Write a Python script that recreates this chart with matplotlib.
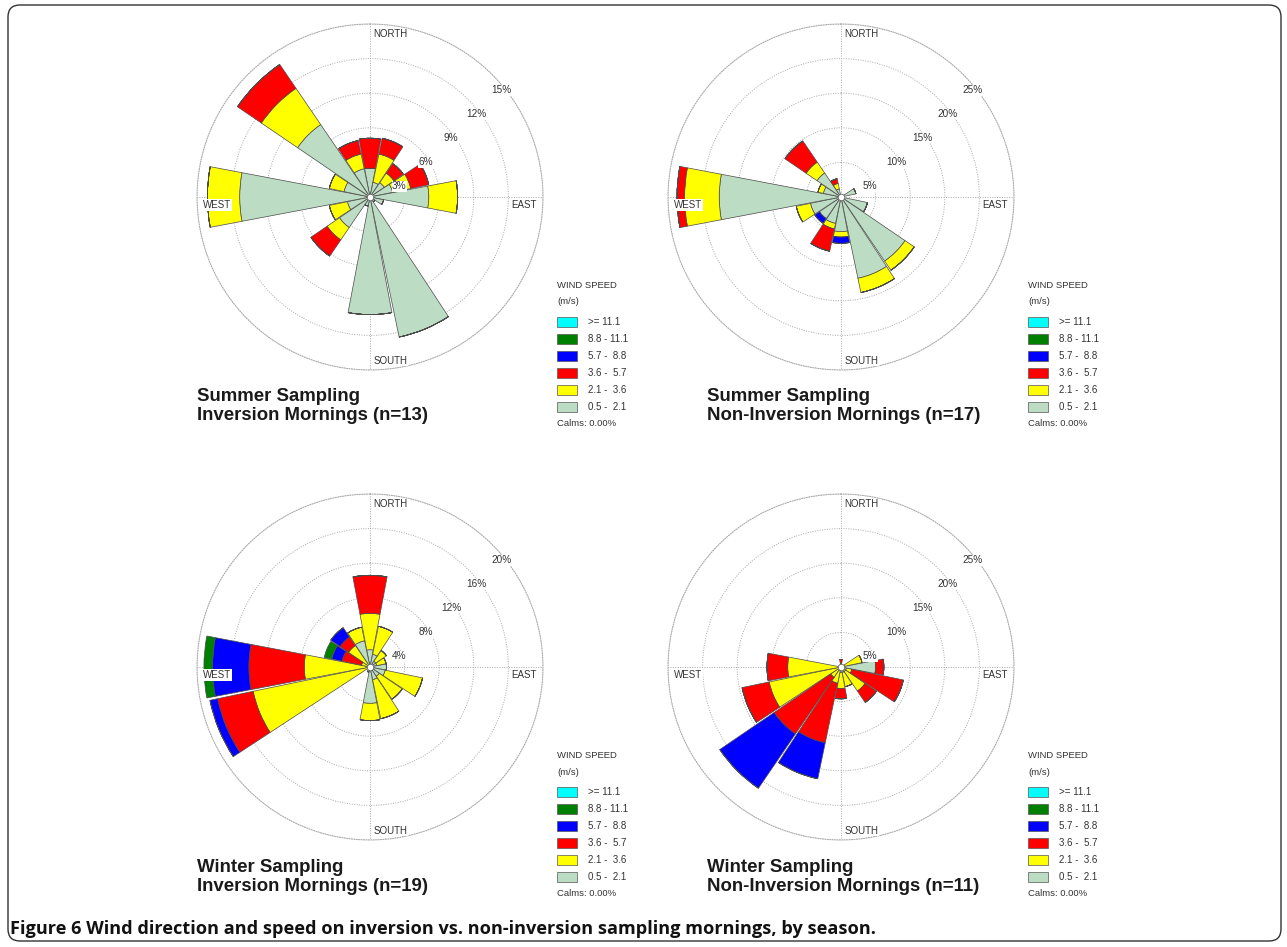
import numpy as np
import matplotlib.pyplot as plt
from matplotlib.patches import Rectangle, FancyBboxPatch
from matplotlib.transforms import IdentityTransform

W, H = 1287, 947

# 16 compass sectors, clockwise from north
dirs = ['N', 'NNE', 'NE', 'ENE', 'E', 'ESE', 'SE', 'SSE',
        'S', 'SSW', 'SW', 'WSW', 'W', 'WNW', 'NW', 'NNW']
theta = np.deg2rad(np.arange(16) * 22.5)

speed_labels = ['>= 11.1', '8.8 - 11.1', '5.7 -  8.8', '3.6 -  5.7', '2.1 -  3.6', '0.5 -  2.1']
speed_colors = ['#00ffff', '#008000', '#0000ff', '#ff0000', '#ffff00', '#bcdcc3']

# percent of time per sector, per speed class (0.5-2.1, 2.1-3.6, 3.6-5.7, 5.7-8.8, 8.8-11.1)
# summer, inversion mornings (n=13)
si_c1 = [2.5, 1.3, 1.5, 2.0, 5.1, 1.2, 0.5, 12.4, 10.2, 0.8, 3.2, 2.0, 11.3, 2.3, 7.6, 2.5]
si_c2 = [0.0, 2.5, 1.0, 1.6, 2.5, 0.0, 0.0, 0.0, 0.0, 0.0, 1.3, 1.6, 2.8, 1.3, 3.8, 1.3]
si_c3 = [2.6, 1.4, 1.0, 1.6, 0.0, 0.0, 0.0, 0.0, 0.0, 0.0, 1.7, 0.0, 0.0, 0.0, 2.5, 1.2]
si_c4 = [0.0] * 16
si_c5 = [0.0] * 16

# summer, non-inversion mornings (n=17)
sn_c1 = [0.0, 0.0, 0.0, 2.2, 0.0, 3.9, 11.2, 12.0, 5.0, 3.9, 3.8, 4.5, 17.6, 2.6, 4.2, 1.2]
sn_c2 = [0.0, 0.0, 0.0, 0.0, 0.0, 0.0, 1.6, 2.1, 0.8, 0.8, 0.0, 2.1, 5.0, 0.8, 1.9, 0.8]
sn_c3 = [0.0, 0.0, 0.0, 0.0, 0.0, 0.0, 0.0, 0.0, 0.0, 3.3, 0.0, 0.0, 1.1, 0.0, 3.7, 0.7]
sn_c4 = [0.0, 0.0, 0.0, 0.0, 0.0, 0.0, 0.0, 0.0, 0.9, 0.0, 0.8, 0.0, 0.0, 0.0, 0.0, 0.0]
sn_c5 = [0.0] * 16

# winter, inversion mornings (n=19)
wi_c1 = [2.0, 1.5, 0.8, 0.8, 1.9, 1.8, 1.3, 1.5, 4.2, 0.6, 0.3, 0.0, 0.0, 0.0, 0.0, 3.1]
wi_c2 = [4.2, 3.3, 1.5, 1.1, 0.0, 4.4, 3.2, 4.6, 2.0, 0.0, 0.0, 13.8, 7.6, 1.0, 3.0, 1.6]
wi_c3 = [4.4, 0.0, 0.0, 0.0, 0.0, 0.0, 0.0, 0.0, 0.0, 0.0, 0.0, 4.2, 6.4, 2.3, 1.2, 0.0]
wi_c4 = [0.0, 0.0, 0.0, 0.0, 0.0, 0.0, 0.0, 0.0, 0.0, 0.0, 0.0, 0.9, 4.2, 1.2, 1.3, 0.0]
wi_c5 = [0.0, 0.0, 0.0, 0.0, 0.0, 0.0, 0.0, 0.0, 0.0, 0.0, 0.0, 0.0, 1.0, 0.9, 0.0, 0.0]

# winter, non-inversion mornings (n=11)
wn_c1 = [0.0, 0.0, 0.3, 0.5, 5.0, 0.8, 0.8, 0.8, 0.8, 0.5, 0.3, 0.0, 0.0, 0.3, 0.0, 0.3]
wn_c2 = [0.5, 0.0, 0.0, 2.6, 0.0, 0.8, 3.4, 2.1, 2.3, 1.9, 1.5, 10.6, 7.7, 0.0, 0.0, 0.0]
wn_c3 = [0.6, 0.0, 0.0, 0.0, 1.2, 7.6, 2.0, 0.0, 1.5, 8.8, 9.9, 4.0, 3.0, 0.0, 0.0, 0.0]
wn_c4 = [0.0, 0.0, 0.0, 0.0, 0.0, 0.0, 0.0, 0.0, 0.0, 5.3, 9.5, 0.0, 0.0, 0.0, 0.0, 0.0]
wn_c5 = [0.0] * 16

titles = ['Summer Sampling', 'Summer Sampling', 'Winter Sampling', 'Winter Sampling']
subtitles = ['Inversion Mornings (n=13)', 'Non-Inversion Mornings (n=17)',
             'Inversion Mornings (n=19)', 'Non-Inversion Mornings (n=11)']
rings_list = [[3, 6, 9, 12, 15], [5, 10, 15, 20, 25], [4, 8, 12, 16, 20], [5, 10, 15, 20, 25]]

FONT = 'Liberation Sans'
R = 173  # outer ring radius, px


def fx(x):
    return x / W


def fy(y):
    return 1 - y / H


def rose(cx, cy, rings, classes):
    ax = fig.add_axes([fx(cx - R), fy(cy + R), 2 * R / W, 2 * R / H], projection='polar')
    ax.set_theta_zero_location('N')
    ax.set_theta_direction(-1)
    ax.set_ylim(0, rings[-1])
    ax.set_rticks(rings)
    ax.set_yticklabels([])
    ax.set_xticks(np.deg2rad([0, 90, 180, 270]))
    ax.set_xticklabels([])
    ax.grid(True, linestyle=(0, (1, 1.5)), color='#a8a8a8', linewidth=0.7)
    ax.spines['polar'].set_linestyle((0, (1, 1.5)))
    ax.spines['polar'].set_color('#a8a8a8')
    ax.spines['polar'].set_linewidth(0.7)
    ax.set_axisbelow(True)
    ax.patch.set_alpha(0)

    # stack from light winds outward
    cols = speed_colors[::-1]
    bottom = np.zeros(16)
    for i, vals in enumerate(classes):
        vals = np.array(vals)
        ax.bar(theta, vals, width=np.deg2rad(21.5), bottom=bottom, color=cols[i],
               edgecolor='#4a4a4a', linewidth=0.5, zorder=2)
        bottom = bottom + vals

    ax.scatter([0], [0], s=22, c='white', edgecolors='#666666', linewidths=0.6, zorder=6)

    step = rings[1] - rings[0]
    angs = [70, 58, 54, 52, 51]
    for rv, a in zip(rings, angs):
        ax.text(np.deg2rad(a), rv - 0.1 * step, f'{rv}%', fontsize=7.2, family=FONT,
                color='#333333', ha='center', va='center', zorder=7,
                bbox=dict(facecolor='white', edgecolor='none', pad=0.3))

    kw = dict(fontsize=7, family=FONT, color='#333333', transform=ax.transAxes, zorder=7,
              bbox=dict(facecolor='white', edgecolor='none', pad=0.5))
    ax.text(0.509, 0.970, 'NORTH', ha='left', va='center', **kw)
    ax.text(0.509, 0.027, 'SOUTH', ha='left', va='center', **kw)
    ax.text(0.983, 0.477, 'EAST', ha='right', va='center', **kw)
    ax.text(0.017, 0.477, 'WEST', ha='left', va='center', **kw)
    return ax


def legend(x0, y0):
    fig.text(fx(x0), fy(y0), 'WIND SPEED', fontsize=6.8, family=FONT, color='#333333', va='center')
    fig.text(fx(x0), fy(y0 + 17), '(m/s)', fontsize=6.8, family=FONT, color='#333333', va='center')
    for i, (lab, col) in enumerate(zip(speed_labels, speed_colors)):
        yc = y0 + 37 + 17 * i
        fig.add_artist(Rectangle((fx(x0), fy(yc + 5)), 20 / W, 10 / H, facecolor=col,
                                 edgecolor='#555555', linewidth=0.5, transform=fig.transFigure))
        fig.text(fx(x0 + 31), fy(yc), lab, fontsize=7, family=FONT, color='#333333', va='center')
    fig.text(fx(x0), fy(y0 + 139), 'Calms: 0.00%', fontsize=6.8, family=FONT, color='#333333', va='center')


fig = plt.figure(figsize=(W / 100, H / 100), dpi=100)

data = [[si_c1, si_c2, si_c3, si_c4, si_c5],
        [sn_c1, sn_c2, sn_c3, sn_c4, sn_c5],
        [wi_c1, wi_c2, wi_c3, wi_c4, wi_c5],
        [wn_c1, wn_c2, wn_c3, wn_c4, wn_c5]]
centers = [(370, 197), (841, 197), (370, 667), (841, 667)]
leg_pos = [(557, 285), (1028, 285), (557, 755), (1028, 755)]
title_pos = [(197, 401), (707, 401), (197, 872), (707, 872)]

for k in range(4):
    cx, cy = centers[k]
    rose(cx, cy, rings_list[k], data[k])
    legend(*leg_pos[k])
    tx, ty = title_pos[k]
    fig.text(fx(tx), fy(ty), titles[k], fontsize=13.4, weight='bold', family=FONT,
             color='#1a1a1a', va='baseline')
    fig.text(fx(tx), fy(ty + 19), subtitles[k], fontsize=13.4,
             weight='bold', family=FONT, color='#1a1a1a', va='baseline')

# caption
fig.text(fx(10), fy(934), 'Figure 6 Wind direction and speed on inversion vs. non-inversion sampling mornings, by season.',
         fontsize=13.1, weight='bold', family='Open Sans', color='#111111', va='baseline')

# rounded frame
frame = FancyBboxPatch((8, H - 941), 1273, 936, boxstyle='round,pad=0,rounding_size=12',
                       facecolor='none', edgecolor='#333333', linewidth=1.0,
                       transform=IdentityTransform())
fig.add_artist(frame)

fig.savefig('out.png', dpi=100)
